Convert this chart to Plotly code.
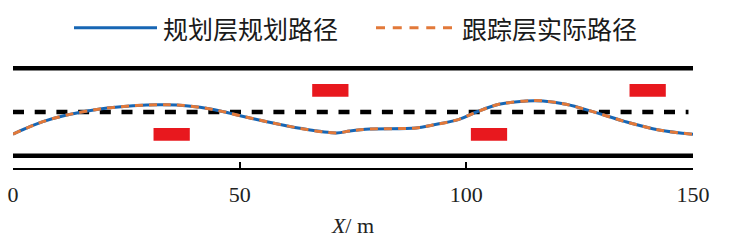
import plotly.graph_objects as go

# ---- data ----
path_x = [0, 3.75, 6.6, 11.85, 19.2, 26.5, 32.4, 36.1, 41.25, 45.7, 50.1, 56, 63.3, 71.4, 74.3,
          78.75, 88.9, 92.6, 98.4, 102.1, 107.2, 113.2, 116.9, 122, 127.9, 135.1, 142.5, 150]
planned_y = [1.86, 2.49, 2.92, 3.49, 4.01, 4.29, 4.38, 4.35, 4.15, 3.84, 3.43, 2.92, 2.35, 1.95, 2.12,
             2.29, 2.38, 2.64, 3.12, 3.73, 4.41, 4.70, 4.70, 4.41, 3.78, 2.92, 2.21, 1.84]
actual_y = [1.86, 2.49, 2.92, 3.49, 4.01, 4.29, 4.38, 4.35, 4.15, 3.84, 3.43, 2.92, 2.35, 1.95, 2.12,
            2.29, 2.38, 2.64, 3.12, 3.73, 4.41, 4.70, 4.70, 4.41, 3.78, 2.92, 2.21, 1.84]

road_x = [0, 150]
road_bottom = 0.0
road_center = 3.75
road_top = 7.5

obs_x0 = [31, 66, 101, 136]
obs_x1 = [39, 74, 109, 144]
obs_y0 = [1.29, 5.06, 1.29, 5.06]
obs_y1 = [2.38, 6.15, 2.38, 6.15]

tick_vals = [0, 50, 100, 150]
tick_text = ["0", "50", "100", "150"]

names = ["规划层规划路径", "跟踪层实际路径"]
blue = "#1766b4"
orange = "#e2793a"
red = "#e8181e"

fig = go.Figure()

# road boundaries
for yv in (road_bottom, road_top):
    fig.add_trace(go.Scatter(x=road_x, y=[yv, yv], mode="lines",
                             line=dict(color="black", width=4.5), showlegend=False, hoverinfo="skip"))
fig.add_trace(go.Scatter(x=[0, 149], y=[road_center, road_center], mode="lines",
                         line=dict(color="black", width=4.5, dash="11px,10.7px"),
                         showlegend=False, hoverinfo="skip"))

# obstacles
for a, b, c, d in zip(obs_x0, obs_x1, obs_y0, obs_y1):
    fig.add_shape(type="rect", xref="x", yref="y", x0=a, x1=b, y0=c, y1=d,
                  fillcolor=red, line=dict(width=0), layer="above")

# paths
fig.add_trace(go.Scatter(x=path_x, y=planned_y, mode="lines", name=names[0],
                         line=dict(color=blue, width=3, shape="spline", smoothing=1.0), showlegend=False))
fig.add_trace(go.Scatter(x=path_x, y=actual_y, mode="lines", name=names[1],
                         line=dict(color=orange, width=3, dash="8px,6px", shape="spline", smoothing=1.0),
                         showlegend=False))

# manual legend (paper coords)
L, R, B, T = 13, 43, 75, 60
W, H = 736, 243
pw, ph = W - L - R, H - T - B

def px(xp):
    return (xp - L) / pw

def py(yp):
    return (H - B - yp) / ph

ly = py(27.7)
fig.add_shape(type="line", xref="paper", yref="paper", x0=px(74), x1=px(157), y0=ly, y1=ly,
              line=dict(color=blue, width=3))
fig.add_shape(type="line", xref="paper", yref="paper", x0=px(376), x1=px(452), y0=ly, y1=ly,
              line=dict(color=orange, width=3, dash="9px,7.75px"))
fig.add_annotation(x=px(161), y=ly, xref="paper", yref="paper", text=names[0], showarrow=False,
                   xanchor="left", yanchor="middle",
                   font=dict(family="Noto Sans CJK SC", size=25, color="#1a1a1a"))
fig.add_annotation(x=px(460), y=ly, xref="paper", yref="paper", text=names[1], showarrow=False,
                   xanchor="left", yanchor="middle",
                   font=dict(family="Noto Sans CJK SC", size=25, color="#1a1a1a"))

fig.update_layout(
    width=W, height=H,
    margin=dict(l=L, r=R, t=T, b=B, pad=0, autoexpand=False),
    paper_bgcolor="white", plot_bgcolor="white",
    showlegend=False,
    font=dict(family="Liberation Serif", size=22, color="#222222"),
    xaxis=dict(range=[0, 150], tickvals=tick_vals, ticktext=tick_text, automargin=False,
               showline=True, linecolor="black", linewidth=2, ticks="inside", ticklen=6,
               tickwidth=2, tickcolor="black", showgrid=False, zeroline=False,
               ticklabelstandoff=6,
               title=dict(text="<i>X</i>/ m", font=dict(family="Liberation Serif", size=22), standoff=11)),
    yaxis=dict(range=[-1.056, 8.212], visible=False, showgrid=False, zeroline=False, automargin=False),
)

fig.write_html("out.html")
